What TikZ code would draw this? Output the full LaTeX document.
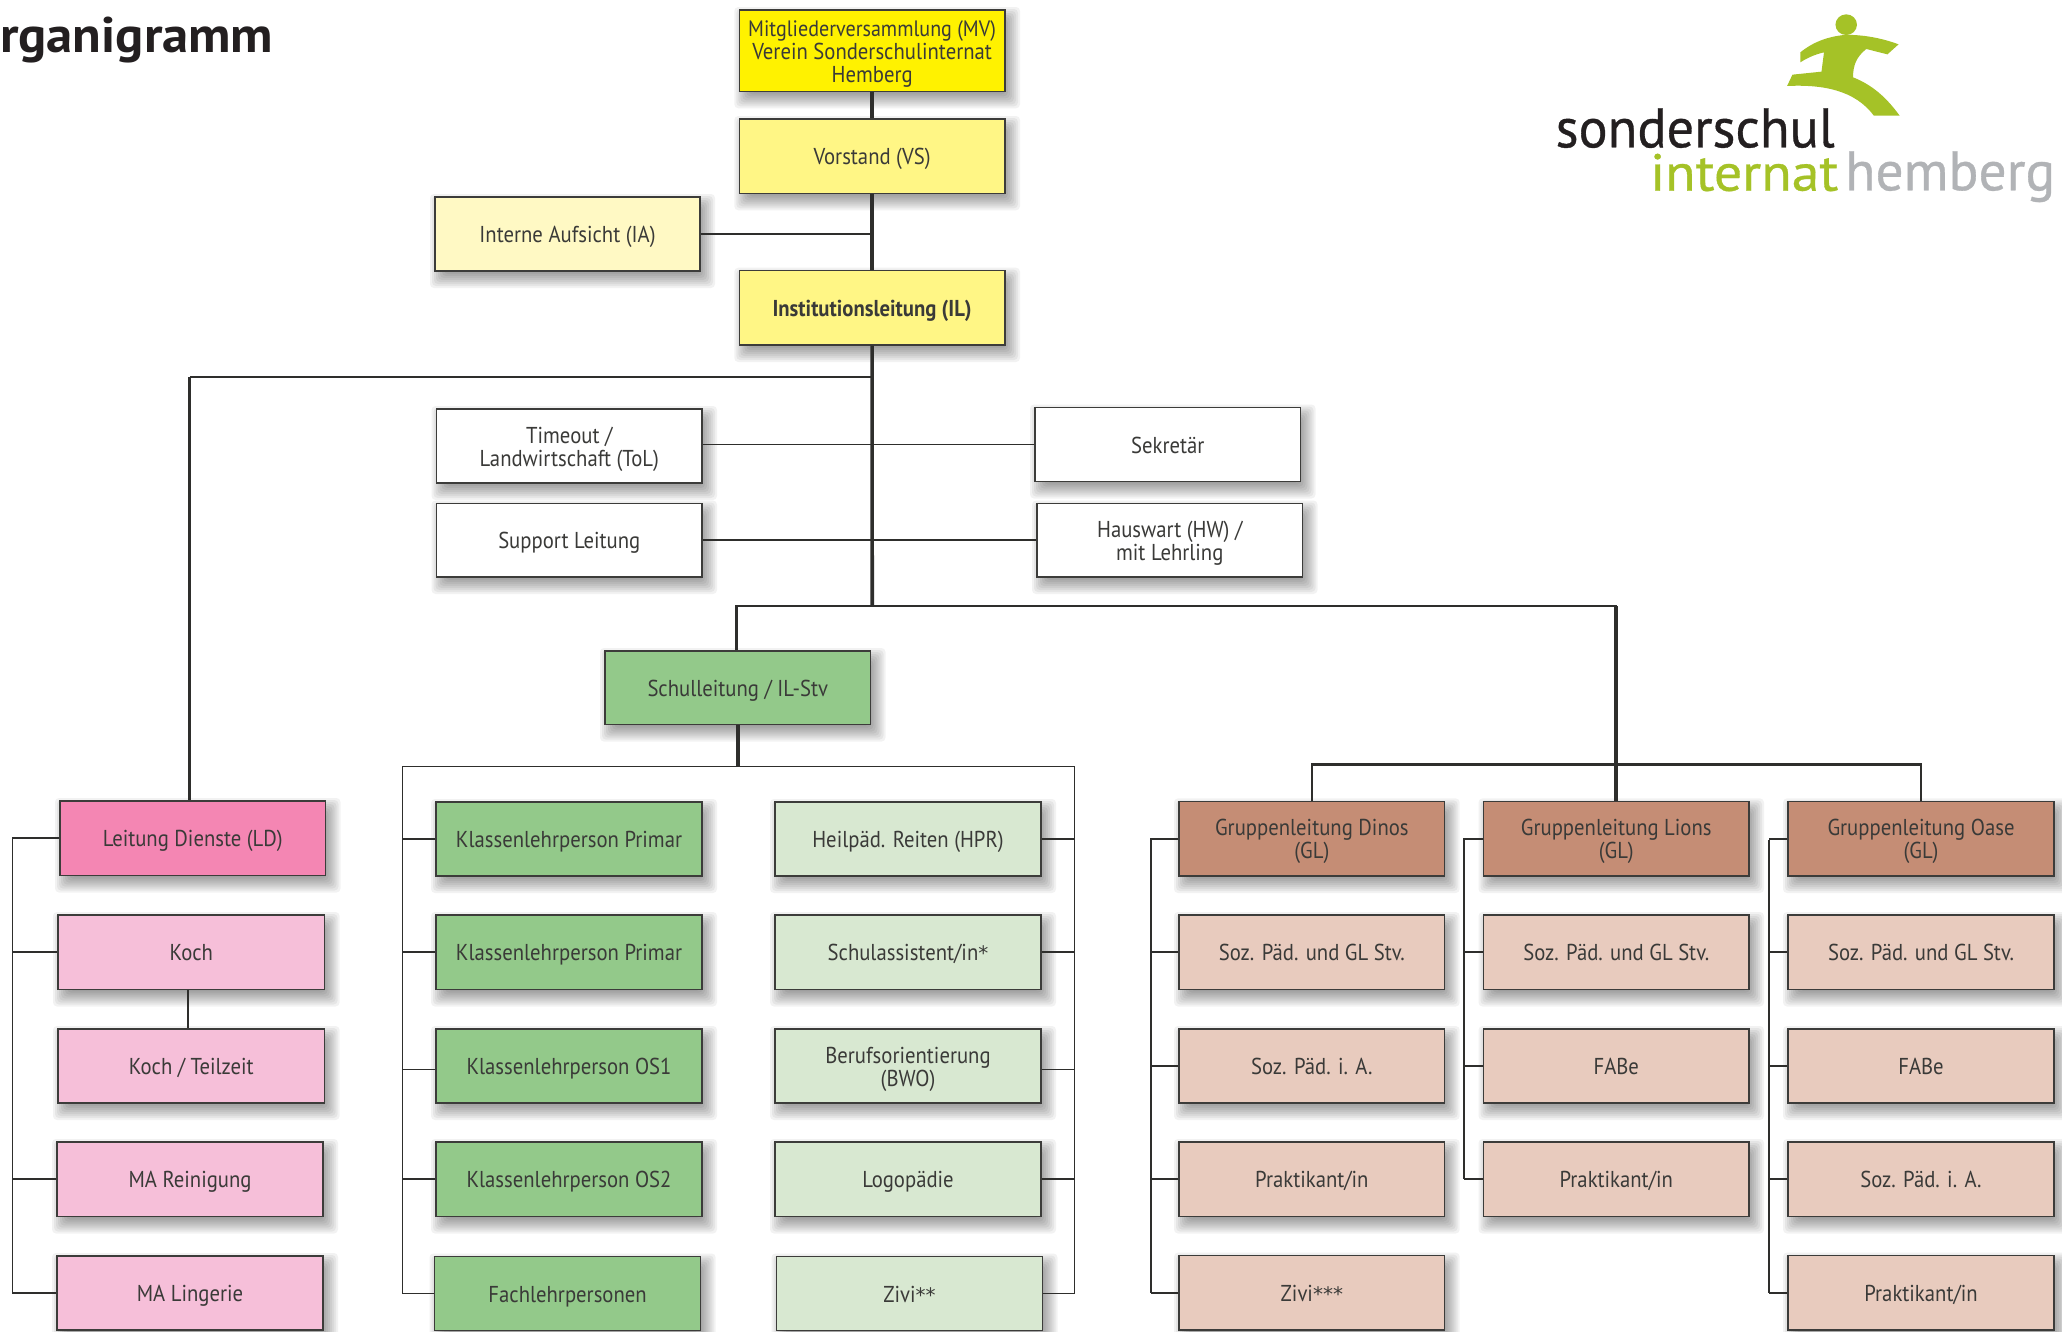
\documentclass[tikz,border=0pt]{standalone}
\usepackage{fontspec}
\usepackage{graphicx}
\setmainfont[FakeStretch=0.9]{PT Sans}
\newfontfamily\titlef{PT Sans}
\newfontfamily\logof[FakeBold=0.6]{PT Sans}
\newfontfamily\astf{DejaVu Sans}
\usetikzlibrary{calc}
\pgfdeclarelayer{bg}
\pgfsetlayers{bg,main}
\definecolor{mvc}{HTML}{FFF200}
\definecolor{vsc}{HTML}{FFF685}
\definecolor{iac}{HTML}{FFF9C4}
\definecolor{grn}{HTML}{93C98A}
\definecolor{lgrn}{HTML}{D8E8D1}
\definecolor{ldc}{HTML}{F486B3}
\definecolor{pnk}{HTML}{F6BFD9}
\definecolor{brn}{HTML}{C58D75}
\definecolor{lbrn}{HTML}{E8CBBE}
\definecolor{logog}{HTML}{A5C227}
\definecolor{logogr}{HTML}{B1B3B6}
\definecolor{ink}{HTML}{3A3A38}
\definecolor{edge}{HTML}{2E2E2C}
\definecolor{boxedge}{HTML}{3C3C3A}
\definecolor{logok}{HTML}{231F20}
\tikzset{
  orgbox/.style={draw=boxedge,line width=1.15pt,inner sep=0pt},
  boxtext/.style={inner sep=0pt,align=center,text=ink,yshift=-3pt,
    font=\fontsize{23}{23}\selectfont},
  thickl/.style={draw=edge,line width=3.6pt},
  medl/.style={draw=edge,line width=2.4pt},
  thinl/.style={draw=edge,line width=1.7pt},
  logotext/.style={inner sep=0pt,anchor=base west}
}
\newcommand{\bx}[7]{%
  \pgfmathsetmacro{\cxx}{(#2+#4)/2}%
  \pgfmathsetmacro{\cyy}{(#3+#5)/2}%
  \pgfmathsetmacro{\ww}{#4-#2}%
  \pgfmathsetmacro{\hh}{#5-#3}%
  \begin{pgfonlayer}{bg}
  \foreach \e in {-8,-6,...,10}{
    \fill[black,opacity=.05,rounded corners=4pt] (#2+5-\e,#3+7-\e) rectangle (#4+5+\e,#5+7+\e);
  }
  \end{pgfonlayer}
  \node[orgbox,fill=#6,minimum width=\ww pt,minimum height=\hh pt] (#1) at (\cxx,\cyy) {};%
  \node[boxtext] (#1txt) at (#1.center) {\rule{0pt}{15pt}#7\rule[-5pt]{0pt}{5pt}};%
}
\begin{document}
\begin{tikzpicture}[x=1pt,y=-1pt]
\useasboundingbox (0,0) rectangle (2062,1331);
\begin{pgfonlayer}{bg}
\fill[white] (0,0) rectangle (2062,1331);
\end{pgfonlayer}
% title
\node[logotext,text=logok] (title) at (0,52.7) {\resizebox{273pt}{35.5pt}{\titlef\bfseries rganigramm}};
% logo
\begin{scope}[shift={(1500,0)},x=0.3584pt,y=-0.3333pt]
\fill[logog] (966,74) ellipse [x radius=30,y radius=31];
\fill[logog] (838,157) .. controls (875,125) and (915,110) .. (960,105) -- (985,105)
  .. controls (1030,107) and (1075,118) .. (1112,133) -- (1081,163) -- (1022,147)
  .. controls (995,170) and (985,195) .. (985,232)
  .. controls (1040,255) and (1080,295) .. (1115,347) -- (1043,347)
  .. controls (990,270) and (900,253) .. (801,258) -- (816,224) -- (897,215) -- (904,157)
  .. controls (880,163) and (858,173) .. (838,187) -- cycle;
\end{scope}
\node[logotext,text=logok] (lg1) at (1555.5,147.3) {\resizebox{279pt}{39pt}{\fontsize{56}{60}\logof sonderschul}};
\node[logotext,text=logog] (lg2) at (1650,190.7) {\resizebox{188pt}{37pt}{\fontsize{56}{60}\logof internat}};
\node[logotext,text=logogr] (lg3) at (1845,190.3) {\resizebox{210pt}{39pt}{\fontsize{56}{60}\logof hemberg}};
% top
\bx{mv}{739.3}{10}{1005}{91.3}{mvc}{\fontsize{22.3}{23.6}\selectfont Mitgliederversammlung (MV)\\Verein Sonderschulinternat\\Hemberg}
\bx{vs}{739.3}{119}{1005}{193.3}{vsc}{Vorstand (VS)}
\bx{ia}{435}{197}{700}{271}{iac}{Interne Aufsicht (IA)}
\bx{il}{739.3}{270.7}{1005}{345}{vsc}{\bfseries Institutionsleitung (IL)}
\bx{tol}{436.5}{409}{702}{483}{white}{Timeout /\\Landwirtschaft (ToL)}
\bx{sup}{436.5}{503.5}{702}{577}{white}{Support Leitung}
\bx{sek}{1035}{407.5}{1300.5}{481.5}{white}{Sekretär}
\bx{hw}{1037}{503.5}{1302.5}{577}{white}{Hauswart (HW) /\\mit Lehrling}
\bx{sl}{605}{651}{870.5}{724.6}{grn}{Schulleitung / IL-Stv}
% left col
\bx{ld}{60}{801}{325.5}{875.5}{ldc}{Leitung Dienste (LD)}
\bx{koch}{58}{915}{324.6}{989.5}{pnk}{Koch}
\bx{kocht}{58}{1029}{324.6}{1103}{pnk}{Koch / Teilzeit}
\bx{rein}{57}{1142}{323}{1216.5}{pnk}{MA Reinigung}
\bx{ling}{57}{1256}{323}{1330}{pnk}{MA Lingerie}
% green col
\bx{k1}{436}{802}{702}{876}{grn}{Klassenlehrperson Primar}
\bx{k2}{436}{915}{702}{989.5}{grn}{Klassenlehrperson Primar}
\bx{k3}{436}{1029}{702}{1103}{grn}{Klassenlehrperson OS1}
\bx{k4}{436}{1142}{702}{1216.5}{grn}{Klassenlehrperson OS2}
\bx{k5}{434.5}{1256.5}{700.7}{1330.5}{grn}{Fachlehrpersonen}
% light green col
\bx{h1}{775}{802}{1041}{876}{lgrn}{Heilpäd. Reiten (HPR)}
\bx{h2}{775}{915}{1041}{989.5}{lgrn}{Schulassistent/in{\astf\fontsize{20}{23}\selectfont *}}
\bx{h3}{775}{1029}{1041}{1103}{lgrn}{Berufsorientierung\\(BWO)}
\bx{h4}{775}{1142}{1041}{1216.5}{lgrn}{Logopädie}
\bx{h5}{776.5}{1256.5}{1042.5}{1330.5}{lgrn}{Zivi{\astf\fontsize{20}{23}\selectfont **}}
% Dinos
\bx{d0}{1179}{801.4}{1444.7}{876}{brn}{Gruppenleitung Dinos\\(GL)}
\bx{d1}{1179}{915}{1444.7}{989.5}{lbrn}{Soz. Päd. und GL Stv.}
\bx{d2}{1179}{1029}{1444.7}{1103}{lbrn}{Soz. Päd. i. A.}
\bx{d3}{1179}{1142}{1444.7}{1216.5}{lbrn}{Praktikant/in}
\bx{d4}{1179}{1255.6}{1444.7}{1330}{lbrn}{Zivi{\astf\fontsize{20}{23}\selectfont ***}}
% Lions
\bx{l0}{1483.5}{801.4}{1749}{876}{brn}{Gruppenleitung Lions\\(GL)}
\bx{l1}{1483.5}{915}{1749}{989.5}{lbrn}{Soz. Päd. und GL Stv.}
\bx{l2}{1483.5}{1029}{1749}{1103}{lbrn}{FABe}
\bx{l3}{1483.5}{1142}{1749}{1216.5}{lbrn}{Praktikant/in}
% Oase
\bx{o0}{1788}{801.4}{2054}{876}{brn}{Gruppenleitung Oase\\(GL)}
\bx{o1}{1788}{915}{2054}{989.5}{lbrn}{Soz. Päd. und GL Stv.}
\bx{o2}{1788}{1029}{2054}{1103}{lbrn}{FABe}
\bx{o3}{1788}{1142}{2054}{1216.5}{lbrn}{Soz. Päd. i. A.}
\bx{o4}{1788}{1255.6}{2054}{1330}{lbrn}{Praktikant/in}
% rails
\coordinate (trunk) at (872.2,606);
\coordinate (ldtop) at (189.5,377);
\coordinate (sltop) at (736.5,606);
\coordinate (gltop) at (1616,606);
\coordinate (glbar) at (1616,764.5);
\coordinate (slbar) at (737.7,766.6);
\coordinate (rg1) at (402.4,766.6);
\coordinate (rg2) at (1074.4,766.6);
\coordinate (rL) at (12.4,837);
\coordinate (rD) at (1151,838);
\coordinate (rN) at (1464,838);
\coordinate (rO) at (1769,840);
% main connectors
\draw[thickl] (mv.south) -- (vs.north);
\draw[thickl] (vs.south) -- (il.north);
\draw[thinl] (ia.east) -- (ia.east -| il.north);
\draw[thickl] (il.south) -- (trunk);
\draw[thinl] (il.south |- ldtop) -- (ldtop);
\draw[medl] (ldtop) -- (ldtop |- ld.north);
\draw[thinl] (tol.east |- sek.west) -- (sek.west);
\draw[thinl] (sup.east) -- (hw.west);
\draw[medl] (sl.north -| sltop) -- (sltop) -- (gltop) -- (glbar);
\draw[thickl] (gltop) -- (glbar);
\draw[medl] (d0.north -| 1311.7,0) -- (1311.7,764.5) -- (1921,764.5) -- (o0.north);
\draw[thickl] (glbar) -- (l0.north -| glbar);
\draw[thickl] (sl.south -| slbar) -- (slbar);
% green bracket
\draw[thinl] (rg1 |- k5.west) -- (rg1) -- (rg2) -- (rg2 |- h5.east);
\foreach \n/\s in {k1/0,k2/0,k3/-3.5,k4/0,k5/0}{
  \draw[thinl] ([yshift=\s pt]\n.west) -- ([yshift=\s pt]\n.west -| rg1);
}
\foreach \n/\s in {h1/0,h2/0,h3/-3.5,h4/0,h5/0}{
  \draw[thinl] ([yshift=\s pt]\n.east) -- ([yshift=\s pt]\n.east -| rg2);
}
% left rail
\draw[thinl] (rL) -- (rL |- ling.west);
\foreach \n in {ld,koch,rein,ling}{\draw[thinl] (\n.west) -- (\n.west -| rL);}
\draw[thinl] (koch.south -| 188,0) -- (kocht.north -| 188,0);
% Dinos, Lions, Oase rails
\draw[thinl] (rD) -- (rD |- d4.west);
\foreach \n in {d0,d1,d2,d3,d4}{\draw[thinl] (\n.west) -- (\n.west -| rD);}
\draw[thinl] (rN) -- (rN |- l3.west);
\foreach \n in {l0,l1,l2,l3}{\draw[thinl] (\n.west) -- (\n.west -| rN);}
\draw[thinl] (rO) -- (rO |- o4.west);
\foreach \n in {o0,o1,o2,o3,o4}{\draw[thinl] (\n.west) -- (\n.west -| rO);}
\end{tikzpicture}
\end{document}
